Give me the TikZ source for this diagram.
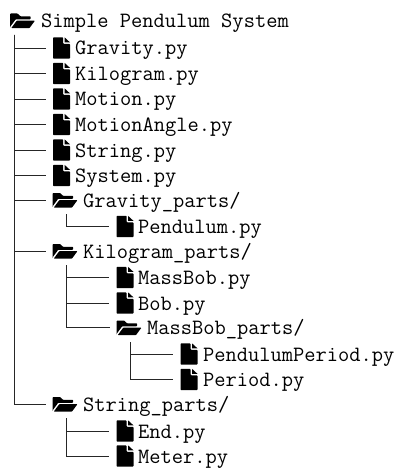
\documentclass[tikz,border=0pt]{standalone}
\usepackage{fontspec}
\tikzset{
  x=1pt,y=-1pt,
  conn/.style={line width=0.8pt,black!85},
  filelabel/.style={anchor=west,inner sep=0pt,font=\fontsize{21.85}{21.85}\selectfont\ttfamily,text height=18pt,text depth=4pt},
  folderlabel/.style={anchor=west,inner sep=0pt,font=\fontsize{21.85}{21.85}\selectfont\ttfamily,text height=16pt,text depth=4pt},
  fileicon/.style={inner sep=0pt,minimum width=17pt,minimum height=21.5pt,outer xsep=7.5pt,outer ysep=0pt,anchor=center,
    path picture={
      \fill[black,rounded corners=0.8pt] (-8.5,-10.6) -- (1.7,-10.6) -- (1.7,-4.2) -- (8.5,-4.2) -- (8.5,10.6) -- (-8.5,10.6) -- cycle;
      \fill[black] (3.1,-10.6) -- (8.5,-5.6) -- (3.1,-5.6) -- cycle;
    }},
  foldericon/.style={inner sep=0pt,minimum width=25pt,minimum height=16pt,outer xsep=7pt,outer ysep=0pt,anchor=center,
    path picture={
      \fill[black,rounded corners=0.6pt] (-12.3,7) -- (-12.3,-7.2) -- (-5,-7.2) -- (-2,-4.4) -- (8,-4.4) -- (8,-1.4) -- (-6.8,-1.4) -- (-12.3,6) -- cycle;
      \fill[black,rounded corners=0.6pt] (-5.8,0) -- (12.4,0) -- (7,7.4) -- (-11.2,7.4) -- cycle;
    }},
}
\newcommand{\fileitem}[5]{% name, icon centre x, row y, text x, text
  \node[fileicon] (#1) at (#2,#3) {};
  \node[filelabel] (#1t) at (#4,#3) {#5};
}
\newcommand{\folderitem}[5]{%
  \node[foldericon] (#1) at (#2,#3-0.8) {};
  \node[folderlabel] (#1t) at (#4,#3) {#5};
}
\begin{document}
\begin{tikzpicture}
\useasboundingbox (0,0) rectangle (398,468);
\folderitem{root}{22.5}{21.5}{41}{Simple Pendulum System}
\fileitem{a1}{61.5}{48}{75}{Gravity.py}
\fileitem{a2}{61.5}{73.5}{75}{Kilogram.py}
\fileitem{a3}{61.5}{99}{75}{Motion.py}
\fileitem{a4}{61.5}{124.5}{75}{MotionAngle.py}
\fileitem{a5}{61.5}{150}{75}{String.py}
\fileitem{a6}{61.5}{175.5}{75}{System.py}
\folderitem{g}{65}{201}{83}{Gravity\_parts/}
\fileitem{g1}{125}{226.5}{138}{Pendulum.py}
\folderitem{k}{65}{252}{83}{Kilogram\_parts/}
\fileitem{k1}{125}{277.5}{138}{MassBob.py}
\fileitem{k2}{125}{303}{138}{Bob.py}
\folderitem{m}{129}{328.5}{147}{MassBob\_parts/}
\fileitem{m1}{189}{354}{203}{PendulumPeriod.py}
\fileitem{m2}{189}{379.5}{203}{Period.py}
\folderitem{s}{65}{405}{83}{String\_parts/}
\fileitem{s1}{125}{431}{138}{End.py}
\fileitem{s2}{125}{456}{138}{Meter.py}
\coordinate (t0) at (14,35);
\coordinate (tg) at (66.7,214);
\coordinate (tk) at (66.7,265);
\coordinate (tm) at (130.7,342);
\coordinate (ts) at (66.7,418);
\foreach \n in {a1,a2,a3,a4,a5,a6,g,k,s} \draw[conn] (t0) |- (\n.west);
\draw[conn] (tg) |- (g1.west);
\foreach \n in {k1,k2,m} \draw[conn] (tk) |- (\n.west);
\foreach \n in {m1,m2} \draw[conn] (tm) |- (\n.west);
\foreach \n in {s1,s2} \draw[conn] (ts) |- (\n.west);
\end{tikzpicture}
\end{document}
